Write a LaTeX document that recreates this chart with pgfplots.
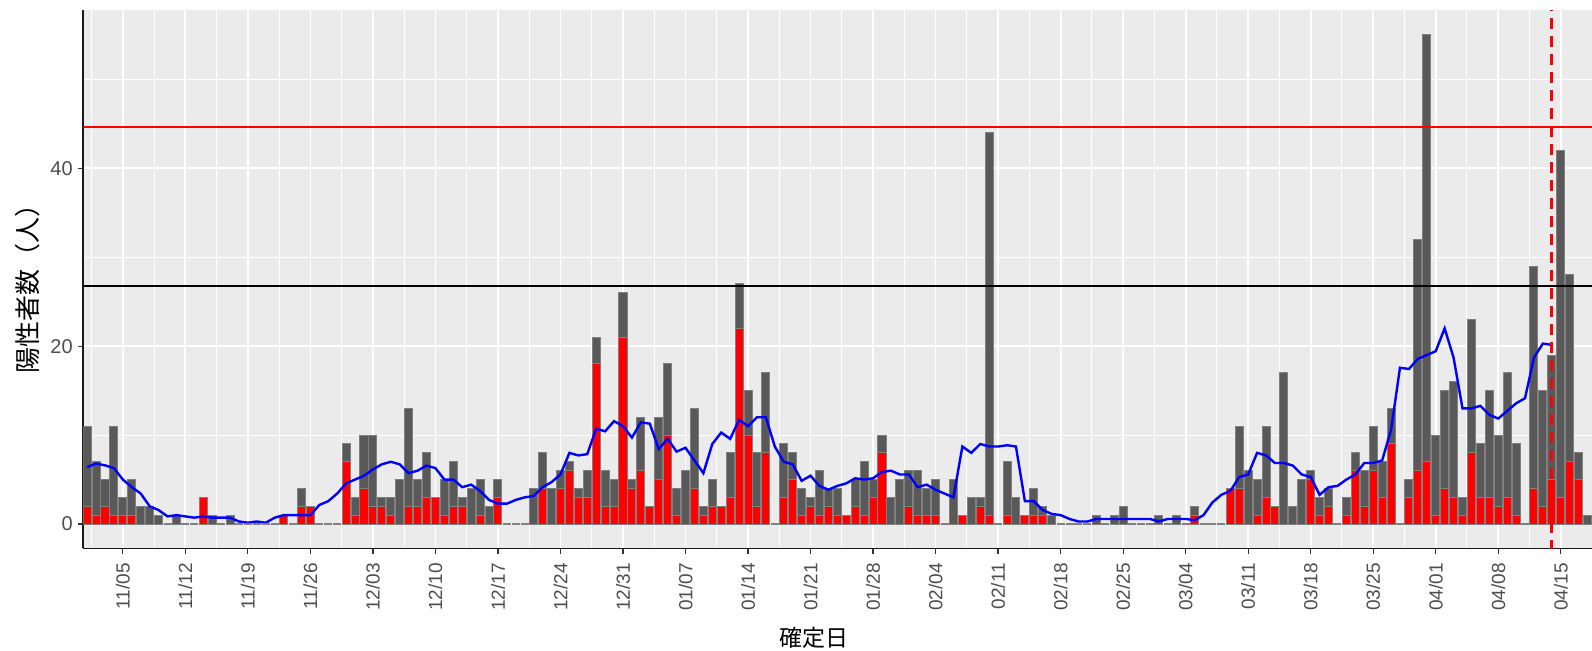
\documentclass[border=0pt]{standalone}
\usepackage{fontspec}
\setmainfont{Liberation Sans}
\newfontfamily\cjk{Noto Sans CJK JP}
\usepackage{pgfplots}
\pgfplotsset{compat=1.18}
\usepackage{pgfplotstable}
\definecolor{panel}{HTML}{EBEBEB}
\definecolor{bargray}{HTML}{595959}
\definecolor{barline}{HTML}{808080}
\definecolor{ticklab}{HTML}{4D4D4D}
\definecolor{tickcol}{HTML}{333333}
\definecolor{pureblue}{HTML}{0000FF}
\definecolor{purered}{HTML}{FF0000}

\pgfplotstableread{
d total
-4 11
-3 7
-2 5
-1 11
0 3
1 5
2 2
3 2
4 1
5 0
6 1
7 0
8 0
9 3
10 1
11 0
12 1
13 0
14 0
15 0
16 0
17 0
18 1
19 0
20 4
21 2
22 0
23 0
24 0
25 9
26 3
27 10
28 10
29 3
30 3
31 5
32 13
33 5
34 8
35 3
36 5
37 7
38 3
39 4
40 5
41 2
42 5
43 0
44 0
45 0
46 4
47 8
48 4
49 6
50 7
51 4
52 6
53 21
54 6
55 5
56 26
57 5
58 12
59 2
60 12
61 18
62 4
63 6
64 13
65 2
66 5
67 2
68 8
69 27
70 15
71 8
72 17
73 0
74 9
75 8
76 4
77 3
78 6
79 4
80 4
81 1
82 5
83 7
84 5
85 10
86 3
87 5
88 6
89 6
90 4
91 5
92 0
93 5
94 1
95 3
96 3
97 44
98 0
99 7
100 3
101 1
102 4
103 2
104 1
105 0
106 0
107 0
108 0
109 1
110 0
111 1
112 2
113 0
114 0
115 0
116 1
117 0
118 1
119 0
120 2
121 0
122 0
123 0
124 4
125 11
126 6
127 5
128 11
129 2
130 17
131 2
132 5
133 6
134 3
135 4
136 0
137 3
138 8
139 6
140 11
141 7
142 13
143 0
144 5
145 32
146 55
147 10
148 15
149 16
150 3
151 23
152 9
153 15
154 10
155 17
156 9
157 0
158 29
159 15
160 19
161 42
162 28
163 8
164 1
}\totals

\pgfplotstableread{
d zero
5 0
7 0
8 0
11 0
13 0
14 0
15 0
16 0
17 0
19 0
22 0
23 0
24 0
43 0
44 0
45 0
73 0
92 0
98 0
105 0
106 0
107 0
108 0
110 0
113 0
114 0
115 0
117 0
119 0
121 0
122 0
123 0
136 0
143 0
157 0
}\zeros

\pgfplotstableread{
d red
-4 2
-3 1
-2 2
-1 1
0 1
1 1
9 3
18 1
20 2
21 2
25 7
26 1
27 4
28 2
29 2
30 1
32 2
33 2
34 3
35 3
36 1
37 2
38 2
40 1
42 3
47 4
49 4
50 6
51 3
52 3
53 18
54 2
55 2
56 21
57 4
58 6
59 2
60 5
61 10
62 1
64 4
65 1
66 2
67 2
68 3
69 22
70 10
71 2
72 8
74 3
75 5
76 1
77 2
78 1
79 2
80 1
81 1
82 2
83 1
84 3
85 8
88 2
89 1
90 1
91 1
94 1
96 2
97 1
99 1
101 1
102 1
103 1
120 1
124 4
125 4
127 1
128 3
129 2
133 5
134 1
135 2
137 1
138 6
139 2
140 6
141 3
142 9
144 3
145 6
146 7
147 1
148 4
149 3
150 1
151 8
152 3
153 3
154 2
155 3
156 1
158 4
159 2
160 5
161 3
162 7
163 5
}\reds

\pgfplotstableread{
d ma
-4 6.4
-3 6.8
-2 6.6
-1 6.286
0 5.0
1 4.143
2 3.429
3 2.0
4 1.571
5 0.857
6 1.0
7 0.857
8 0.714
9 0.857
10 0.714
11 0.714
12 0.714
13 0.286
14 0.143
15 0.286
16 0.143
17 0.714
18 1.0
19 1.0
20 1.0
21 1.0
22 2.143
23 2.571
24 3.429
25 4.571
26 5.0
27 5.429
28 6.143
29 6.714
30 7.0
31 6.714
32 5.714
33 6.0
34 6.571
35 6.286
36 5.0
37 5.0
38 4.143
39 4.429
40 3.714
41 2.714
42 2.286
43 2.286
44 2.714
45 3.0
46 3.143
47 4.143
48 4.714
49 5.571
50 8.0
51 7.714
52 7.857
53 10.714
54 10.429
55 11.571
56 11.0
57 9.714
58 11.429
59 11.286
60 8.429
61 9.571
62 8.143
63 8.571
64 7.143
65 5.714
66 9.0
67 10.286
68 9.571
69 11.714
70 11.0
71 12.0
72 12.0
73 8.714
74 7.0
75 6.714
76 4.857
77 5.429
78 4.286
79 3.857
80 4.286
81 4.571
82 5.143
83 5.0
84 5.143
85 5.857
86 6.0
87 5.571
88 5.571
89 4.143
90 4.429
91 3.857
92 3.429
93 3.0
94 8.714
95 8.0
96 9.0
97 8.714
98 8.714
99 8.857
100 8.714
101 2.571
102 2.571
103 1.571
104 1.143
105 1.0
106 0.571
107 0.286
108 0.286
109 0.571
110 0.571
111 0.571
112 0.571
113 0.571
114 0.571
115 0.571
116 0.286
117 0.571
118 0.571
119 0.571
120 0.429
121 1.0
122 2.429
123 3.286
124 3.714
125 5.286
126 5.571
127 8.0
128 7.714
129 6.857
130 6.857
131 6.571
132 5.571
133 5.286
134 3.286
135 4.143
136 4.286
137 5.0
138 5.571
139 6.857
140 6.857
141 7.143
142 10.571
143 17.571
144 17.429
145 18.571
146 19.0
147 19.429
148 22.0
149 18.714
150 13.0
151 13.0
152 13.286
153 12.286
154 11.857
155 12.714
156 13.571
157 14.143
158 18.714
159 20.286
160 20.143
}\mavg

\begin{document}
\begin{tikzpicture}
\useasboundingbox (0,0) rectangle (796pt,325.5pt);
\begin{axis}[
  at={(41.65pt,51.25pt)}, anchor=south west,
  scale only axis, width=754.35pt, height=269.05pt,
  xmin=-4.43, xmax=164.5, ymin=-2.75, ymax=57.75,
  axis background/.style={fill=panel},
  axis x line*=bottom, axis y line*=left,
  axis line style={black!90, line width=0.8pt},
  xtick={0,7,...,161},
  xticklabels={11/05,11/12,11/19,11/26,12/03,12/10,12/17,12/24,12/31,01/07,01/14,01/21,01/28,02/04,02/11,02/18,02/25,03/04,03/11,03/18,03/25,04/01,04/08,04/15},
  minor xtick={-3.5,3.5,...,164.5},
  ytick={0,20,40}, minor ytick={10,30,50},
  grid=both,
  major grid style={white, line width=0.9pt},
  minor grid style={white, line width=0.5pt},
  tick align=outside, major tick length=2.6pt, minor tick length=0pt,
  tick style={tickcol, line width=0.6pt},
  x tick label style={rotate=90, anchor=east, font=\fontsize{9.5}{11}\selectfont, text=ticklab, inner sep=4.5pt},
  y tick label style={font=\fontsize{10}{12}\selectfont, text=ticklab, inner sep=2.5pt},
  /pgf/number format/assume math mode=true,
]
\addplot[only marks, mark=-, mark size=2pt, mark options={draw=barline, line width=0.6pt}] table[x=d,y=zero]{\zeros};
\addplot[ybar, bar width=0.9, bar shift=0pt, fill=bargray, draw=barline, line width=0.5pt] table[x=d,y=total]{\totals};
\addplot[ybar, bar width=0.9, bar shift=0pt, fill=purered, draw=barline, line width=0.5pt] table[x=d,y=red]{\reds};
\addplot[pureblue, line width=1.2pt] table[x=d,y=ma]{\mavg};
\addplot[purered, line width=1pt] coordinates {(-5,44.6) (166,44.6)};
\addplot[black, line width=1pt] coordinates {(-5,26.8) (166,26.8)};
\addplot[purered, line width=1.5pt, dash pattern=on 5.5pt off 3.5pt] coordinates {(160,-3) (160,58)};
\end{axis}
\node[font=\cjk\fontsize{11.5}{13}\selectfont] at (407pt,6.65pt) {確定日};
\node[font=\cjk\fontsize{13}{15}\selectfont, rotate=90] at (14pt,184.3pt) {陽性者数（人）};
\end{tikzpicture}
\end{document}
